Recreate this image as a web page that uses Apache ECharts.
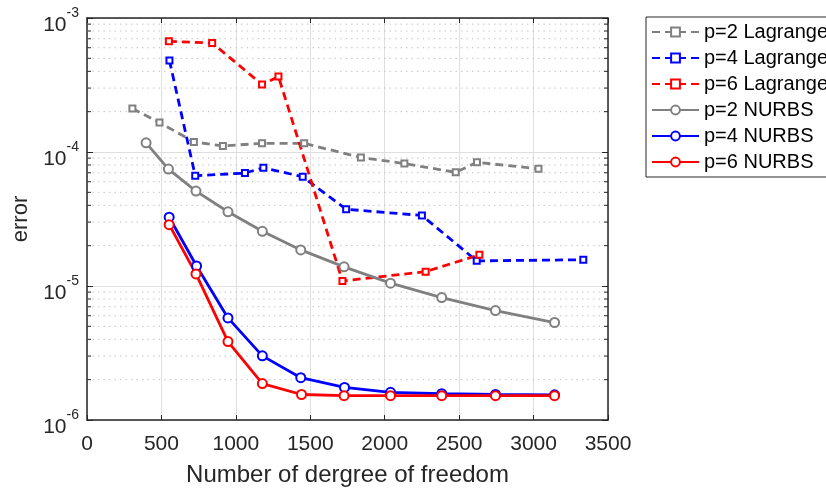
<!DOCTYPE html>
<html><head><meta charset="utf-8">
<script src="https://cdn.jsdelivr.net/npm/echarts@6/dist/echarts.min.js"></script>
<style>html,body{margin:0;padding:0;background:#fff}#c{width:826px;height:492px}</style>
</head><body><div id="c"></div>
<script>
// ---- data ----
const seriesNames = ['p=2 Lagrange', 'p=4 Lagrange', 'p=6 Lagrange', 'p=2 NURBS', 'p=4 NURBS', 'p=6 NURBS'];
const p2LagX = [305, 487, 718, 913, 1176, 1459, 1840, 2132, 2477, 2620, 3033];
const p2LagY = [2.11e-4, 1.66e-4, 1.19e-4, 1.11e-4, 1.16e-4, 1.16e-4, 9.1e-5, 8.2e-5, 7.05e-5, 8.37e-5, 7.5e-5];
const p4LagX = [554, 727, 1061, 1185, 1449, 1741, 2250, 2618, 3334];
const p4LagY = [4.81e-4, 6.65e-5, 6.96e-5, 7.63e-5, 6.53e-5, 3.74e-5, 3.36e-5, 1.54e-5, 1.57e-5];
const p6LagX = [550, 841, 1176, 1286, 1716, 2275, 2636];
const p6LagY = [6.7e-4, 6.51e-4, 3.19e-4, 3.66e-4, 1.09e-5, 1.28e-5, 1.71e-5];
const p2NurbsX = [397, 547, 732, 947, 1178, 1436, 1727, 2039, 2383, 2744, 3141];
const p2NurbsY = [1.17e-4, 7.46e-5, 5.11e-5, 3.58e-5, 2.56e-5, 1.86e-5, 1.39e-5, 1.05e-5, 8.2e-6, 6.56e-6, 5.34e-6];
const p4NurbsX = [552, 736, 947, 1178, 1436, 1730, 2039, 2383, 2744, 3141];
const p4NurbsY = [3.26e-5, 1.41e-5, 5.78e-6, 3.01e-6, 2.07e-6, 1.75e-6, 1.61e-6, 1.57e-6, 1.55e-6, 1.54e-6];
const p6NurbsX = [552, 732, 947, 1178, 1441, 1727, 2039, 2383, 2744, 3141];
const p6NurbsY = [2.87e-5, 1.23e-5, 3.85e-6, 1.87e-6, 1.55e-6, 1.52e-6, 1.52e-6, 1.52e-6, 1.52e-6, 1.52e-6];
const xTicks = [0, 500, 1000, 1500, 2000, 2500, 3000, 3500];
const yDecades = [1e-6, 1e-5, 1e-4, 1e-3];
const xLabel = 'Number of dergree of freedom';
const yLabel = 'error';

// ---- build ----
const zip = (xs, ys) => xs.map((x, i) => [x, ys[i]]);
const AX = '#262626';
const FONT = '"Liberation Sans", Arial, Helvetica, sans-serif';
const minorVals = [];
for (let d = 0; d < yDecades.length - 1; d++) for (let m = 2; m <= 9; m++) minorVals.push(m * yDecades[d]);
const xMin = xTicks[0], xMax = xTicks[xTicks.length - 1];

function mk(name, xs, ys, color, dashed, sym) {
  return {
    name, type: 'line', data: zip(xs, ys), z: dashed ? 3 : 4,
    symbol: sym === 'sq' ? 'emptyRect' : 'emptyCircle',
    symbolSize: sym === 'sq' ? 6 : 9,
    lineStyle: { color, width: 2.8, type: dashed ? [8, 5] : 'solid' },
    itemStyle: { color, borderColor: color, borderWidth: 2.4 },
    animation: false
  };
}

// minor grid lines + minor ticks drawn through the axis scales
const minorSeries = {
  type: 'custom', silent: true, z: 1, clip: false, animation: false,
  data: minorVals.map(v => [xMin, v]),
  encode: { x: 0, y: 1 },
  renderItem: (params, api) => {
    const v = api.value(1);
    const a = api.coord([xMin, v]);
    const b = api.coord([xMax, v]);
    return {
      type: 'group',
      children: [
        { type: 'line', shape: { x1: a[0], y1: a[1], x2: b[0], y2: b[1] },
          style: { stroke: '#c4c4c4', lineWidth: 1, lineDash: [1.5, 4] } },
        { type: 'line', shape: { x1: a[0], y1: a[1], x2: a[0] + 4, y2: a[1] },
          style: { stroke: AX, lineWidth: 1 } },
        { type: 'line', shape: { x1: b[0] - 4, y1: b[1], x2: b[0], y2: b[1] },
          style: { stroke: AX, lineWidth: 1 } }
      ]
    };
  }
};

const series = [
  minorSeries,
  mk(seriesNames[0], p2LagX, p2LagY, '#808080', true, 'sq'),
  mk(seriesNames[1], p4LagX, p4LagY, '#0000ff', true, 'sq'),
  mk(seriesNames[2], p6LagX, p6LagY, '#ff0000', true, 'sq'),
  mk(seriesNames[3], p2NurbsX, p2NurbsY, '#808080', false, 'ci'),
  mk(seriesNames[4], p4NurbsX, p4NurbsY, '#0000ff', false, 'ci'),
  mk(seriesNames[5], p6NurbsX, p6NurbsY, '#ff0000', false, 'ci')
];

const axisLine = { show: true, onZero: false, lineStyle: { color: AX, width: 1.5 } };
const yFmt = v => '{b|10}{s|' + Math.round(Math.log10(v)) + '}';

const option = {
  backgroundColor: '#fff',
  animation: false,
  textStyle: { fontFamily: FONT },
  grid: { left: 87, right: 218, top: 18, bottom: 72, containLabel: false },
  legend: {
    data: seriesNames, orient: 'vertical', left: 646, top: 17,
    padding: [5, 8, 5, 5], itemGap: 6, itemWidth: 47, itemHeight: 11,
    backgroundColor: '#fff', borderColor: AX, borderWidth: 1,
    textStyle: { fontSize: 20, color: '#000', fontFamily: FONT, lineHeight: 20 }
  },
  xAxis: [
    {
      type: 'value', min: xMin, max: xMax, interval: 500, position: 'bottom',
      axisLine, axisTick: { show: true, inside: true, length: 5, lineStyle: { color: AX, width: 1 } },
      axisLabel: { fontSize: 21, color: AX, margin: 14, fontFamily: FONT, formatter: v => String(v) },
      splitLine: { show: true, lineStyle: { color: '#dfdfdf', width: 1 } },
      name: xLabel, nameLocation: 'middle', nameGap: 43,
      nameTextStyle: { fontSize: 24, color: AX, fontFamily: FONT }
    },
    {
      type: 'value', min: xMin, max: xMax, interval: 500, position: 'top',
      axisLine, axisTick: { show: true, inside: true, length: 5, lineStyle: { color: AX, width: 1 } },
      axisLabel: { show: false }, splitLine: { show: false }
    }
  ],
  yAxis: [
    {
      type: 'log', logBase: 10, min: 1e-6, max: 1e-3, position: 'left',
      axisLine, axisTick: { show: true, inside: true, length: 6, lineStyle: { color: AX, width: 1 } },
      axisLabel: {
        formatter: yFmt, margin: 8, color: AX, padding: [6, 0, 0, 0],
        rich: {
          b: { fontSize: 21, lineHeight: 30, verticalAlign: 'bottom', color: AX, fontFamily: FONT },
          s: { fontSize: 14, lineHeight: 14, verticalAlign: 'top', color: AX, fontFamily: FONT }
        }
      },
      splitLine: { show: true, lineStyle: { color: '#dfdfdf', width: 1 } },
      name: yLabel, nameLocation: 'middle', nameGap: 55,
      nameTextStyle: { fontSize: 22, color: AX, fontFamily: FONT }
    },
    {
      type: 'log', logBase: 10, min: 1e-6, max: 1e-3, position: 'right',
      axisLine, axisTick: { show: true, inside: true, length: 6, lineStyle: { color: AX, width: 1 } },
      axisLabel: { show: false }, splitLine: { show: false }
    }
  ],
  series
};
const chart = echarts.init(document.getElementById('c'), null, { renderer: 'canvas' });
chart.setOption(option);
</script></body></html>
